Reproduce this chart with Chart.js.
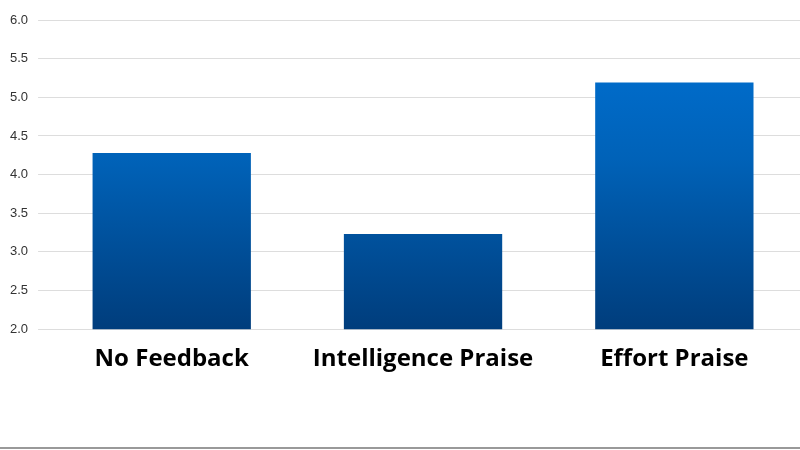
<!DOCTYPE html>
<html><head><script src="https://cdn.jsdelivr.net/npm/chart.js"></script>
<style>body{margin:0;background:#fff}#w{width:800px;height:450px;position:relative}
#line{position:absolute;left:0;right:0;top:447px;height:2px;background:#999}</style></head>
<body><div id="w"><canvas id="c" width="800" height="450"></canvas><div id="line"></div></div>
<script>
var categories = ["No Feedback", "Intelligence Praise", "Effort Praise"];
var values = [4.28, 3.23, 5.19];
var yTicks = [2.0, 2.5, 3.0, 3.5, 4.0, 4.5, 5.0, 5.5, 6.0];

function grad(ctx) {
  var a = ctx.chart.chartArea;
  if (!a) return '#0060b0';
  var g = ctx.chart.ctx.createLinearGradient(0, a.top, 0, a.bottom);
  g.addColorStop(0, '#0072d6');
  g.addColorStop(0.45, '#0062b8');
  g.addColorStop(1, '#003d7c');
  return g;
}

var ctx = document.getElementById('c').getContext('2d');
new Chart(ctx, {
  type: 'bar',
  data: { labels: categories, datasets: [{ data: values, backgroundColor: grad, categoryPercentage: 1, barPercentage: 0.63 }] },
  options: {
    responsive: false, animation: false, devicePixelRatio: 1,
    layout: { padding: { top: 20, right: 0, bottom: 68, left: 0 } },
    plugins: { legend: { display: false }, tooltip: { enabled: false } },
    scales: {
      x: { grid: { display: false }, border: { display: false },
           ticks: { color: '#000', font: { family: 'Open Sans', size: 24, weight: 'bold' }, padding: 8 } },
      y: { min: 2, max: 6, afterBuildTicks: function (s) { s.ticks = yTicks.map(function (v) { return { value: v }; }); },
           grid: { color: '#dddddd' }, border: { display: false },
           ticks: { color: '#333', font: { family: 'Liberation Sans', size: 13 }, padding: 10,
                    callback: function (v) { return v.toFixed(1); } } }
    }
  }
});
</script>
</body></html>
